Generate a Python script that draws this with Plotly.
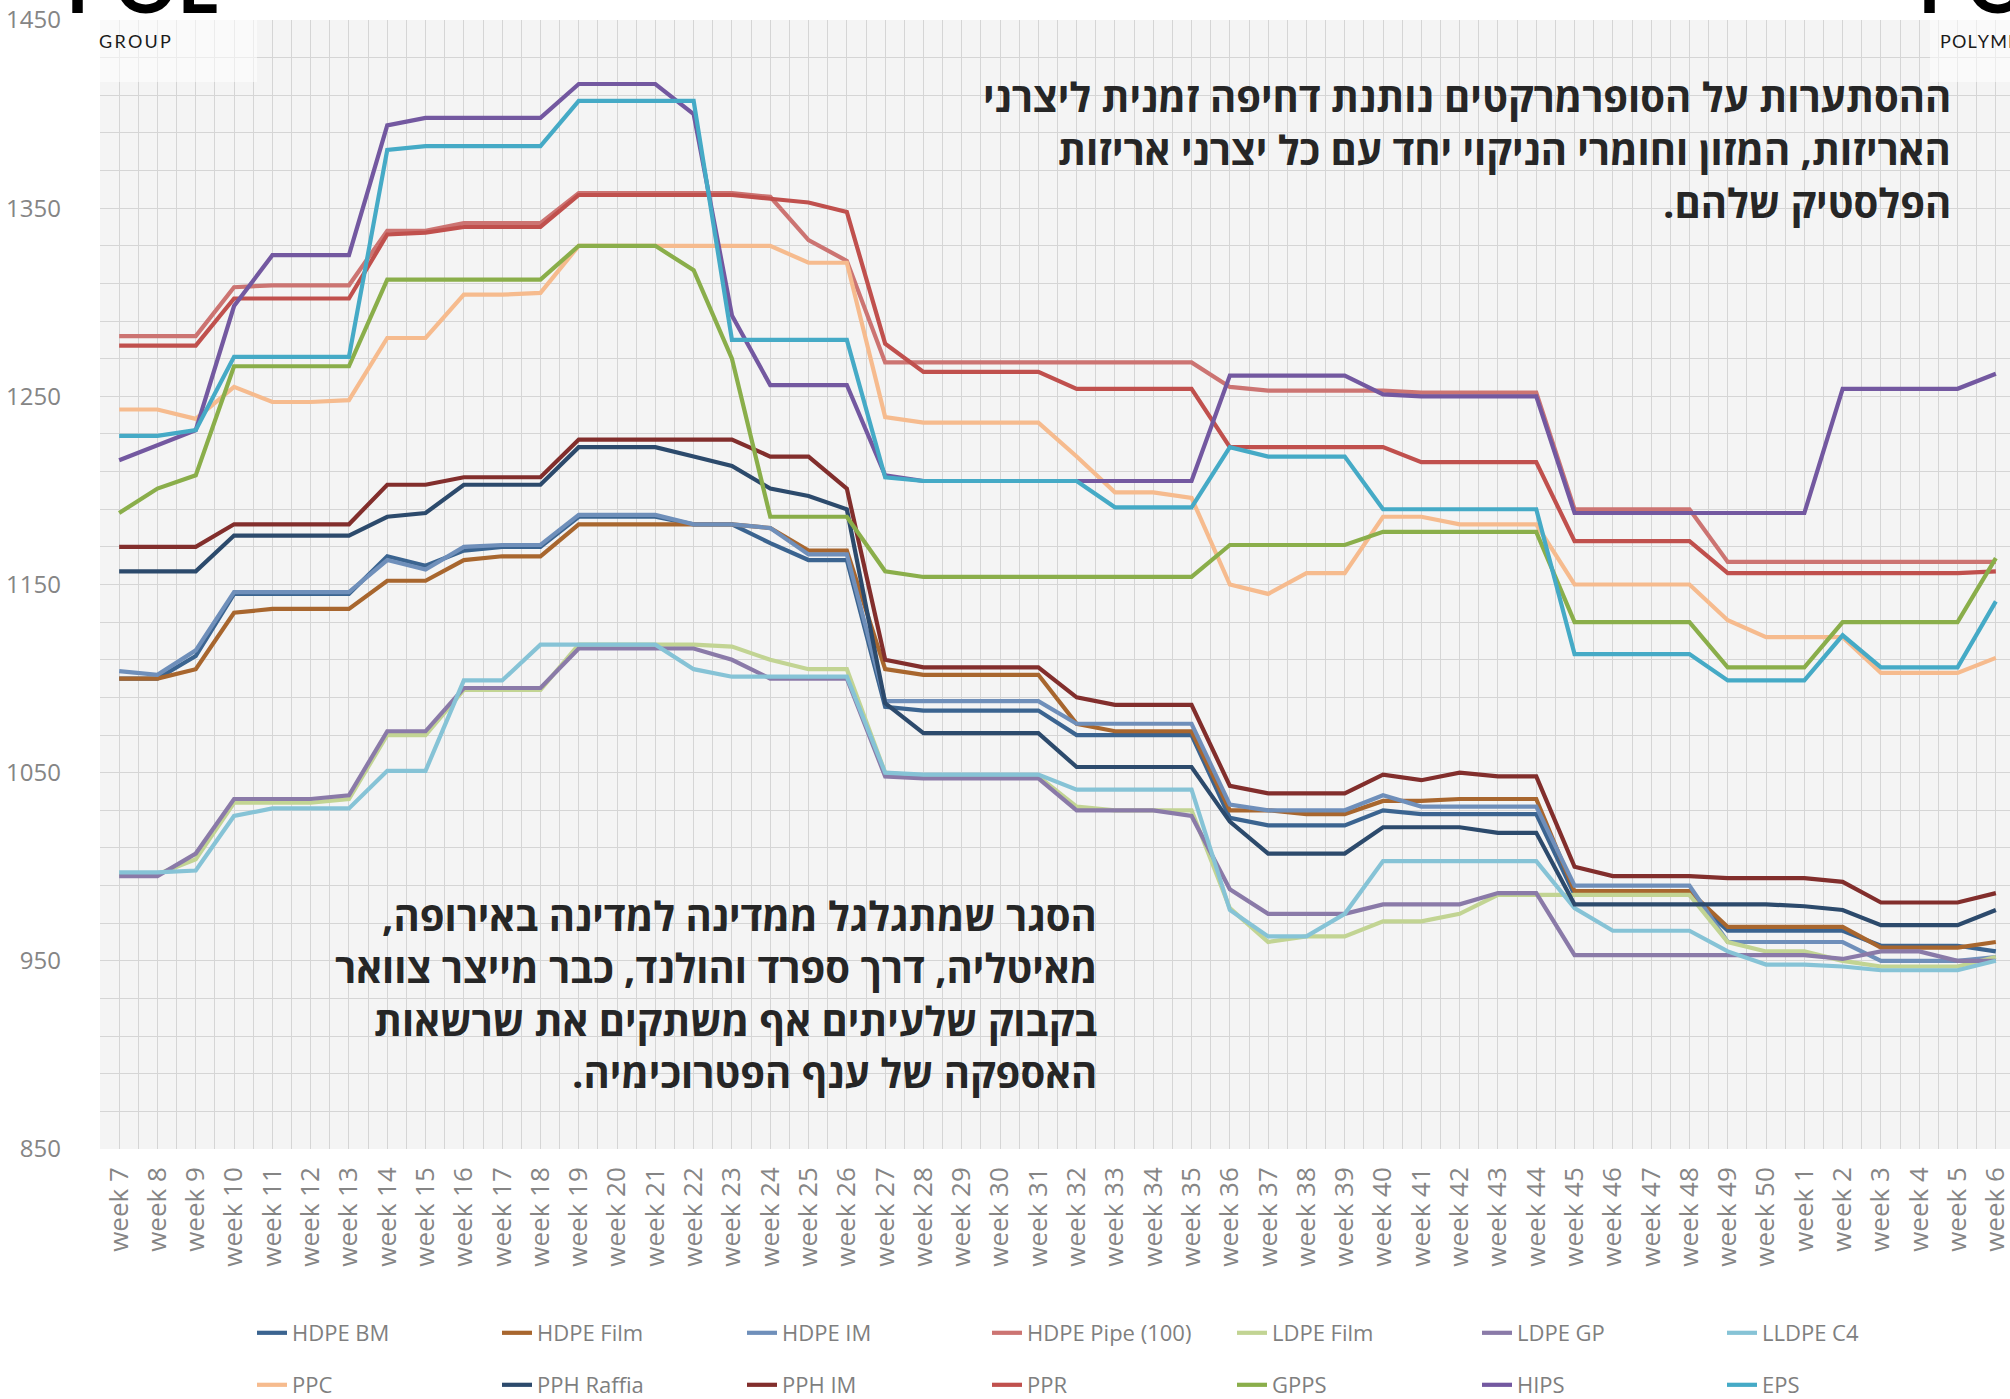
import plotly.graph_objects as go

# ---------------- data ----------------
weeks = (["week %d" % i for i in range(7, 51)] +
         ["week %d" % i for i in range(1, 7)])
x_pos = list(range(len(weeks)))

HDPE_BM = [1100, 1100, 1112, 1145, 1145, 1145, 1145, 1165, 1160, 1168,
           1170, 1170, 1186, 1186, 1186, 1182, 1182, 1172, 1163, 1163,
           1085, 1083, 1083, 1083, 1083, 1070, 1070, 1070, 1070, 1026,
           1022, 1022, 1022, 1030, 1028, 1028, 1028, 1028, 985, 985,
           985, 985, 966, 966, 966, 966, 958, 958, 958, 955]
HDPE_Film = [1100, 1100, 1105, 1135, 1137, 1137, 1137, 1152, 1152, 1163,
             1165, 1165, 1182, 1182, 1182, 1182, 1182, 1180, 1168, 1168,
             1105, 1102, 1102, 1102, 1102, 1076, 1072, 1072, 1072, 1030,
             1030, 1028, 1028, 1035, 1035, 1036, 1036, 1036, 987, 987,
             987, 987, 968, 968, 968, 968, 957, 957, 957, 960]
HDPE_IM = [1104, 1102, 1115, 1146, 1146, 1146, 1146, 1163, 1158, 1170,
           1171, 1171, 1187, 1187, 1187, 1182, 1182, 1180, 1166, 1166,
           1088, 1088, 1088, 1088, 1088, 1076, 1076, 1076, 1076, 1033,
           1030, 1030, 1030, 1038, 1032, 1032, 1032, 1032, 990, 990,
           990, 990, 960, 960, 960, 960, 950, 950, 950, 952]
HDPE_Pipe = [1282, 1282, 1282, 1308, 1309, 1309, 1309, 1338, 1338, 1342,
             1342, 1342, 1358, 1358, 1358, 1358, 1358, 1356, 1333, 1322,
             1268, 1268, 1268, 1268, 1268, 1268, 1268, 1268, 1268, 1255,
             1253, 1253, 1253, 1253, 1252, 1252, 1252, 1252, 1190, 1190,
             1190, 1190, 1162, 1162, 1162, 1162, 1162, 1162, 1162, 1162]
LDPE_Film = [996, 996, 1004, 1034, 1034, 1034, 1036, 1070, 1070, 1094,
             1094, 1094, 1118, 1118, 1118, 1118, 1117, 1110, 1105, 1105,
             1050, 1048, 1048, 1048, 1048, 1032, 1030, 1030, 1030, 978,
             960, 963, 963, 971, 971, 975, 985, 985, 985, 985,
             985, 985, 960, 955, 955, 950, 947, 947, 947, 952]
LDPE_GP = [995, 995, 1007, 1036, 1036, 1036, 1038, 1072, 1072, 1095,
           1095, 1095, 1116, 1116, 1116, 1116, 1110, 1100, 1100, 1100,
           1048, 1047, 1047, 1047, 1047, 1030, 1030, 1030, 1027, 988,
           975, 975, 975, 980, 980, 980, 986, 986, 953, 953,
           953, 953, 953, 953, 953, 951, 955, 955, 950, 950]
LLDPE_C4 = [997, 997, 998, 1027, 1031, 1031, 1031, 1051, 1051, 1099,
            1099, 1118, 1118, 1118, 1118, 1105, 1101, 1101, 1101, 1101,
            1050, 1049, 1049, 1049, 1049, 1041, 1041, 1041, 1041, 977,
            963, 963, 975, 1003, 1003, 1003, 1003, 1003, 978, 966,
            966, 966, 955, 948, 948, 947, 945, 945, 945, 950]
PPC = [1243, 1243, 1238, 1255, 1247, 1247, 1248, 1281, 1281, 1304,
       1304, 1305, 1330, 1330, 1330, 1330, 1330, 1330, 1321, 1321,
       1239, 1236, 1236, 1236, 1236, 1218, 1199, 1199, 1196, 1150,
       1145, 1156, 1156, 1186, 1186, 1182, 1182, 1182, 1150, 1150,
       1150, 1150, 1131, 1122, 1122, 1122, 1103, 1103, 1103, 1111]
PPH_Raffia = [1157, 1157, 1157, 1176, 1176, 1176, 1176, 1186, 1188, 1203,
              1203, 1203, 1223, 1223, 1223, 1218, 1213, 1201, 1197, 1190,
              1087, 1071, 1071, 1071, 1071, 1053, 1053, 1053, 1053, 1024,
              1007, 1007, 1007, 1021, 1021, 1021, 1018, 1018, 980, 980,
              980, 980, 980, 980, 979, 977, 969, 969, 969, 977]
PPH_IM = [1170, 1170, 1170, 1182, 1182, 1182, 1182, 1203, 1203, 1207,
          1207, 1207, 1227, 1227, 1227, 1227, 1227, 1218, 1218, 1201,
          1110, 1106, 1106, 1106, 1106, 1090, 1086, 1086, 1086, 1043,
          1039, 1039, 1039, 1049, 1046, 1050, 1048, 1048, 1000, 995,
          995, 995, 994, 994, 994, 992, 981, 981, 981, 986]
PPR = [1277, 1277, 1277, 1302, 1302, 1302, 1302, 1336, 1337, 1340,
       1340, 1340, 1357, 1357, 1357, 1357, 1357, 1355, 1353, 1348,
       1278, 1263, 1263, 1263, 1263, 1254, 1254, 1254, 1254, 1223,
       1223, 1223, 1223, 1223, 1215, 1215, 1215, 1215, 1173, 1173,
       1173, 1173, 1156, 1156, 1156, 1156, 1156, 1156, 1156, 1157]
GPPS = [1188, 1201, 1208, 1266, 1266, 1266, 1266, 1312, 1312, 1312,
        1312, 1312, 1330, 1330, 1330, 1317, 1270, 1186, 1186, 1186,
        1157, 1154, 1154, 1154, 1154, 1154, 1154, 1154, 1154, 1171,
        1171, 1171, 1171, 1178, 1178, 1178, 1178, 1178, 1130, 1130,
        1130, 1130, 1106, 1106, 1106, 1130, 1130, 1130, 1130, 1164]
HIPS = [1216, 1224, 1232, 1298, 1325, 1325, 1325, 1394, 1398, 1398,
        1398, 1398, 1416, 1416, 1416, 1400, 1293, 1256, 1256, 1256,
        1208, 1205, 1205, 1205, 1205, 1205, 1205, 1205, 1205, 1261,
        1261, 1261, 1261, 1251, 1250, 1250, 1250, 1250, 1188, 1188,
        1188, 1188, 1188, 1188, 1188, 1254, 1254, 1254, 1254, 1262]
EPS = [1229, 1229, 1232, 1271, 1271, 1271, 1271, 1381, 1383, 1383,
       1383, 1383, 1407, 1407, 1407, 1407, 1280, 1280, 1280, 1280,
       1207, 1205, 1205, 1205, 1205, 1205, 1191, 1191, 1191, 1223,
       1218, 1218, 1218, 1190, 1190, 1190, 1190, 1190, 1113, 1113,
       1113, 1113, 1099, 1099, 1099, 1123, 1106, 1106, 1106, 1141]

series_names = ["HDPE BM", "HDPE Film", "HDPE IM", "HDPE Pipe (100)",
                "LDPE Film", "LDPE GP", "LLDPE C4", "PPC", "PPH Raffia",
                "PPH IM", "PPR", "GPPS", "HIPS", "EPS"]
series_values = [HDPE_BM, HDPE_Film, HDPE_IM, HDPE_Pipe, LDPE_Film, LDPE_GP,
                 LLDPE_C4, PPC, PPH_Raffia, PPH_IM, PPR, GPPS, HIPS, EPS]
series_colors = ["#3B6490", "#A8662E", "#6F8FBA", "#CC7472", "#C2D493",
                 "#8A7AA8", "#86C3D6", "#F6BB8E", "#2C4A6C", "#822E2C",
                 "#C0504D", "#8AAE4A", "#7358A0", "#45AAC6"]

y_ticks = [850, 950, 1050, 1150, 1250, 1350, 1450]

note_top = ["ההסתערות על הסופרמרקטים נותנת דחיפה זמנית ליצרני",
            "האריזות, המזון וחומרי הניקוי יחד עם כל יצרני אריזות",
            "הפלסטיק שלהם."]
note_bottom = ["הסגר שמתגלגל ממדינה למדינה באירופה,",
               "מאיטליה, דרך ספרד והולנד, כבר מייצר צוואר",
               "בקבוק שלעיתים אף משתקים את שרשאות",
               "האספקה של ענף הפטרוכימיה."]

# ---------------- geometry ----------------
W, H = 2010, 1399
ML, MR, MT, MB = 100, 0, 20, 250
PW, PH = W - ML - MR, H - MT - MB
STEP = 38.3


def px(x):
    return (x - ML) / PW


def py(y):
    return (H - MB - y) / PH


fig = go.Figure()
for i, (nm, vals, col) in enumerate(zip(series_names, series_values, series_colors)):
    fig.add_trace(go.Scatter(
        x=x_pos, y=vals, name=nm, mode="lines",
        line=dict(color=col, width=4.2),
        legend="legend" if i < 7 else "legend2",
        hoverinfo="skip"))

grid_col = "#d5d5d5"
fig.update_xaxes(
    range=[-0.5, -0.5 + PW / STEP],
    tickmode="array", tickvals=x_pos, ticktext=weeks,
    tickangle=-90, ticks="", ticklabelstandoff=12, ticklabeloverflow="allow",
    tickfont=dict(family="Open Sans", size=26, color="#858585"),
    showgrid=True, gridcolor=grid_col, gridwidth=1,
    minor=dict(tickmode="array", tickvals=[v - 0.5 for v in x_pos] + [len(x_pos) - 0.5],
               showgrid=True, gridcolor=grid_col, gridwidth=1),
    zeroline=False, showline=False, fixedrange=True, automargin=False)
fig.update_yaxes(
    range=[850, 1450], tickmode="array", tickvals=y_ticks,
    ticks="", ticklabelstandoff=38,
    tickfont=dict(family="Open Sans", size=24, color="#858585"),
    showgrid=True, gridcolor=grid_col, gridwidth=1,
    minor=dict(dtick=20, tick0=850, showgrid=True, gridcolor=grid_col, gridwidth=1),
    zeroline=False, showline=False, fixedrange=True, automargin=False)

leg_common = dict(orientation="h", entrywidth=200, entrywidthmode="pixels",
                  xanchor="left", yanchor="middle", bgcolor="rgba(0,0,0,0)",
                  font=dict(family="Open Sans", size=22, color="#7f7f7f"),
                  itemwidth=30, tracegroupgap=0)

fig.update_layout(
    width=W, height=H, autosize=False,
    margin=dict(l=ML, r=MR, t=MT, b=MB, pad=0, autoexpand=False),
    paper_bgcolor="#ffffff", plot_bgcolor="#f4f4f4",
    showlegend=True,
    legend=dict(x=px(252), y=py(1333), **leg_common),
    legend2=dict(x=px(252), y=py(1385), **leg_common),
)

heb_font = dict(family="Open Sans, DejaVu Sans, sans-serif", size=40,
                color="#262626", weight="bold")
RLM = "\u200f"
for i, line in enumerate(note_top):
    fig.add_annotation(xref="paper", yref="paper", x=px(1953), y=py(97 + i * 52.5),
                       xanchor="right", yanchor="middle", align="right",
                       text=RLM + line + RLM, showarrow=False, font=heb_font)
for i, line in enumerate(note_bottom):
    fig.add_annotation(xref="paper", yref="paper", x=px(1099), y=py(915 + i * 52.5),
                       xanchor="right", yanchor="middle", align="right",
                       text=RLM + line + RLM, showarrow=False, font=heb_font)

# logo overlays (semi transparent white boxes with brand text)
fig.add_shape(type="rect", xref="paper", yref="paper", x0=px(99), x1=px(257),
              y0=py(82), y1=py(20), fillcolor="rgba(255,255,255,0.55)", line_width=0,
              layer="above")
fig.add_shape(type="rect", xref="paper", yref="paper", x0=px(1930), x1=px(2010),
              y0=py(82), y1=py(20), fillcolor="rgba(255,255,255,0.55)", line_width=0,
              layer="above")
fig.add_annotation(xref="paper", yref="paper", x=px(97), y=py(41), xanchor="left",
                   yanchor="middle", text="G\u2009R\u2009O\u2009U\u2009P", showarrow=False,
                   font=dict(family="Lato", size=18, color="#1a1a1a"))
fig.add_annotation(xref="paper", yref="paper", x=px(1938), y=py(41), xanchor="left",
                   yanchor="middle", text="P\u200aO\u200aL\u200aY\u200aM\u200aE\u200aR\u200aS",
                   showarrow=False, font=dict(family="Lato", size=18, color="#1a1a1a"))
fig.add_annotation(xref="paper", yref="paper", x=px(64), y=py(32), xanchor="left",
                   yanchor="bottom", text="POL", showarrow=False,
                   font=dict(family="Lato", size=78, color="#000000", weight="bold"))
fig.add_annotation(xref="paper", yref="paper", x=px(1916), y=py(32), xanchor="left",
                   yanchor="bottom", text="PO", showarrow=False,
                   font=dict(family="Lato", size=78, color="#000000", weight="bold"))

fig.write_html("out.html", config={"displayModeBar": False},
               post_script="document.body.style.margin='0';")
